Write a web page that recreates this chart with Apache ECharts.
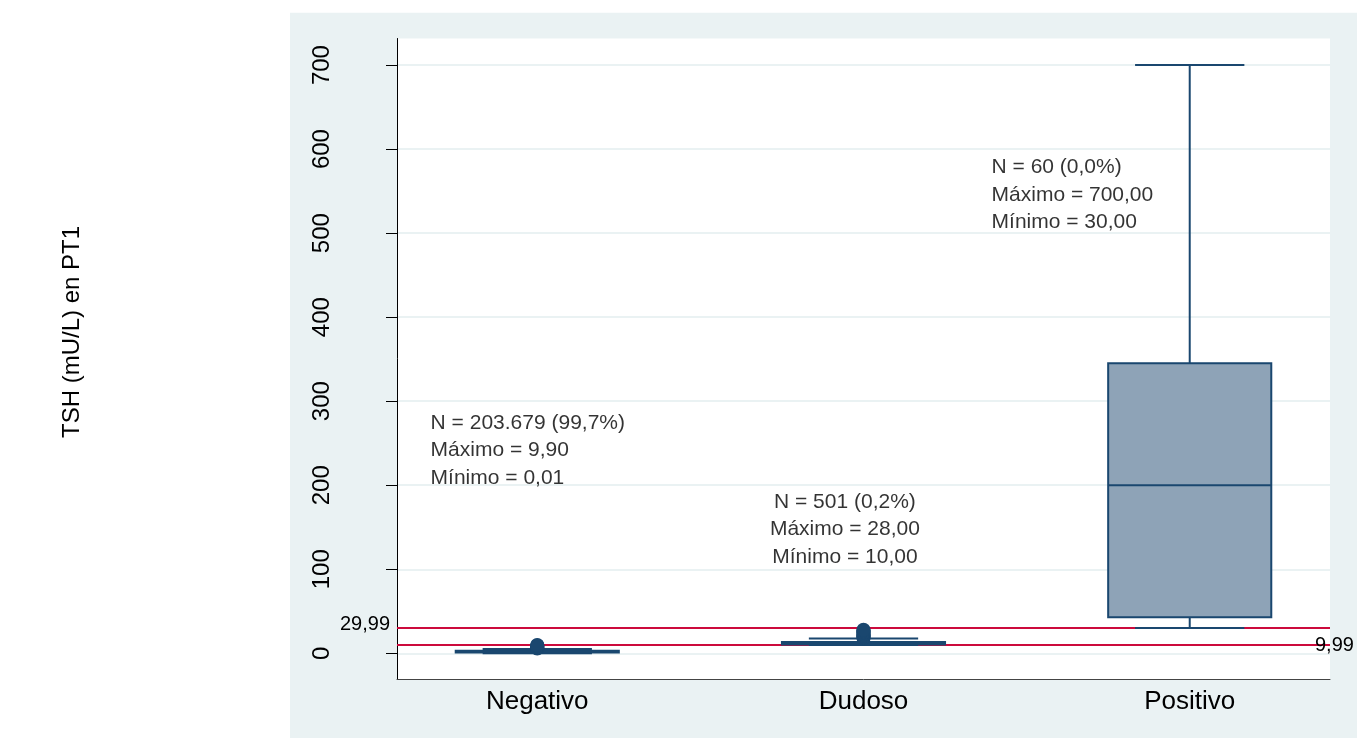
<!DOCTYPE html>
<html>
<head>
<meta charset="utf-8">
<title>TSH en PT1</title>
<script src="https://cdn.jsdelivr.net/npm/echarts@6/dist/echarts.min.js"></script>
<style>
  html, body { margin: 0; padding: 0; background: #ffffff; }
  #chart { width: 1357px; height: 738px; }
</style>
</head>
<body>
<div id="chart"></div>
<script>
// Resultado del cribado neonatal: TSH (mU/L) en PT1 por categoría
const categories = ['Negativo', 'Dudoso', 'Positivo'];

// Estadísticos de caja (bigote inferior, Q1, mediana, Q3, bigote superior)
const whiskerLow  = [0.01, 10, 30];
const quartile1   = [0.9, 10.6, 43];
const medians     = [1.8, 11.8, 200];
const quartile3   = [3.0, 13.3, 345];
const whiskerHigh = [5.2, 17.6, 700];

// Valores atípicos por categoría
const outliersNegativo = [5.6, 6.2, 6.8, 7.4, 8.0, 8.6, 9.2, 9.9];
const outliersDudoso   = [18, 19, 20, 21, 22, 23, 24, 25, 26, 27, 28];
const outliersPositivo = [];

// Marcas del eje Y
const yTicks = [0, 100, 200, 300, 400, 500, 600, 700];

// Puntos de corte
const cutoffValues = [29.99, 9.99];
const cutoffLabels = ['29,99', '9,99'];

// Textos descriptivos por categoría
const countLabels = ['N = 203.679 (99,7%)', 'N = 501 (0,2%)', 'N = 60 (0,0%)'];
const maxLabels   = ['Máximo = 9,90', 'Máximo = 28,00', 'Máximo = 700,00'];
const minLabels   = ['Mínimo = 0,01', 'Mínimo = 10,00', 'Mínimo = 30,00'];

const NAVY = '#1A476F';
const FILL = '#8EA3B7';
const RED = '#CC0A3C';
const GRID_LINE = '#EAF2F3';
const FONT = '"Liberation Sans", Arial, sans-serif';

const boxData = categories.map((c, i) =>
  [i, whiskerLow[i], quartile1[i], medians[i], quartile3[i], whiskerHigh[i]]);

const outlierData = [];
[outliersNegativo, outliersDudoso, outliersPositivo].forEach((list, i) => {
  list.forEach(v => outlierData.push([i, v]));
});

// Ubicación de los bloques de texto (unidades de datos)
const notePlacement = [
  { x: -0.3285, y: 241.5, align: 'left' },
  { x: 0.943,   y: 147.5, align: 'center' },
  { x: 1.391,   y: 545.7, align: 'left' }
];
const noteData = categories.map((c, i) => ({
  value: [notePlacement[i].x, notePlacement[i].y],
  label: {
    show: true,
    position: notePlacement[i].align === 'left' ? 'right' : 'inside',
    align: notePlacement[i].align,
    color: '#000',
    formatter: [countLabels[i], maxLabels[i], minLabels[i]].join('\n')
  }
}));

function renderBox(params, api) {
  const x = api.value(0);
  const lo = api.coord([x, api.value(1)]);
  const q1 = api.coord([x, api.value(2)]);
  const md = api.coord([x, api.value(3)]);
  const q3 = api.coord([x, api.value(4)]);
  const hi = api.coord([x, api.value(5)]);
  const boxW = api.size([0.5, 0])[0];
  const capW = api.size([0.335, 0])[0];
  const cx = lo[0];
  const stroke = { stroke: NAVY, lineWidth: 2 };
  return {
    type: 'group',
    children: [
      { type: 'line', shape: { x1: cx, y1: q3[1], x2: cx, y2: hi[1] }, style: stroke },
      { type: 'line', shape: { x1: cx, y1: lo[1], x2: cx, y2: q1[1] }, style: stroke },
      { type: 'line', shape: { x1: cx - capW / 2, y1: hi[1], x2: cx + capW / 2, y2: hi[1] }, style: stroke },
      { type: 'line', shape: { x1: cx - capW / 2, y1: lo[1], x2: cx + capW / 2, y2: lo[1] }, style: stroke },
      { type: 'rect', shape: { x: cx - boxW / 2, y: q3[1], width: boxW, height: q1[1] - q3[1] },
        style: { fill: FILL, stroke: NAVY, lineWidth: 2 } },
      { type: 'line', shape: { x1: cx - boxW / 2, y1: md[1], x2: cx + boxW / 2, y2: md[1] }, style: stroke }
    ]
  };
}

const chart = echarts.init(document.getElementById('chart'), null, { renderer: 'canvas' });

chart.setOption({
  animation: false,
  backgroundColor: '#ffffff',
  textStyle: { fontFamily: FONT },
  graphic: [
    { type: 'rect', z: -10, shape: { x: 290, y: 12.7, width: 1067, height: 726 },
      style: { fill: '#EAF2F3' }, silent: true },
    { type: 'text', x: 72, y: 332, rotation: Math.PI / 2, silent: true,
      style: { text: 'TSH (mU/L) en PT1', font: '24px ' + FONT, fill: '#000',
               textAlign: 'center', textVerticalAlign: 'middle' } }
  ],
  grid: {
    left: 397, right: 27, top: 38.5, bottom: 59,
    show: true, backgroundColor: '#ffffff', borderWidth: 0
  },
  xAxis: {
    type: 'value',
    min: -0.43, max: 2.43,
    axisLine: { show: true, onZero: false, lineStyle: { color: '#444', width: 1 } },
    axisTick: { show: false },
    splitLine: { show: false },
    axisLabel: {
      customValues: [0, 1, 2],
      formatter: v => categories[Math.round(v)],
      fontSize: 26, color: '#000', margin: 10
    }
  },
  yAxis: {
    type: 'value',
    min: -30.6, max: 731.6,
    axisLine: { show: true, onZero: false, lineStyle: { color: '#000', width: 1 } },
    axisTick: { show: true, customValues: yTicks, length: 11, lineStyle: { color: '#000' } },
    axisLabel: { customValues: yTicks, rotate: 90, fontSize: 24, color: '#000', margin: 63 },
    splitLine: { show: true, lineStyle: { color: GRID_LINE, width: 2 } }
  },
  series: [
    {
      name: 'cortes',
      type: 'scatter',
      data: [],
      markLine: {
        silent: true,
        symbol: ['none', 'none'],
        lineStyle: { color: RED, width: 2, type: 'solid' },
        data: cutoffValues.map((v, i) => ({
          yAxis: v,
          label: i === 0
            ? { show: true, position: 'start', formatter: cutoffLabels[i], fontSize: 20, color: '#000', offset: [-2, -4] }
            : { show: true, position: 'end', formatter: cutoffLabels[i], fontSize: 20, color: '#000', offset: [-20, 1] }
        }))
      }
    },
    {
      name: 'TSH',
      type: 'custom',
      z: 10,
      renderItem: renderBox,
      encode: { x: 0, y: [1, 2, 3, 4, 5] },
      data: boxData
    },
    {
      name: 'atípicos',
      type: 'scatter',
      z: 11,
      symbol: 'circle',
      symbolSize: 14,
      itemStyle: { color: NAVY, opacity: 1 },
      data: outlierData
    },
    {
      name: 'notas',
      type: 'scatter',
      z: 12,
      silent: true,
      symbol: 'circle',
      symbolSize: 1,
      itemStyle: { color: 'rgba(0,0,0,0)' },
      label: { show: true, distance: 0, fontSize: 21, color: '#000', lineHeight: 27.5 },
      data: noteData
    }
  ]
});
</script>
</body>
</html>
